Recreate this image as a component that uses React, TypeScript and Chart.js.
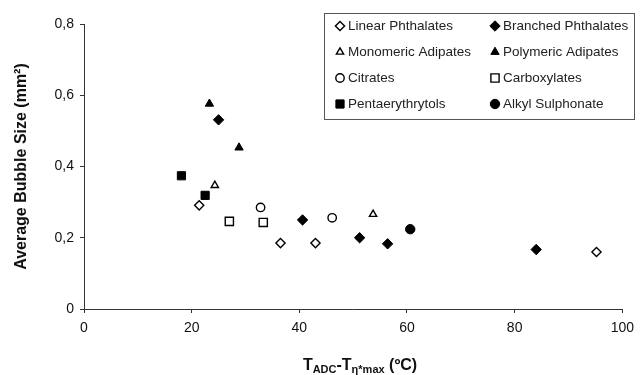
import React, { useEffect, useRef } from "react";
import { Chart, registerables } from "chart.js";
import { drawPoint } from "chart.js/helpers";

Chart.register(...registerables);

// ---- Data ----
const linearX = [21.4, 36.5, 43.0, 95.2];
const linearY = [0.291, 0.185, 0.185, 0.16];
const branchedX = [25.0, 40.6, 51.2, 56.4, 84.0];
const branchedY = [0.531, 0.25, 0.2, 0.183, 0.167];
const monoAdipX = [24.3, 53.7];
const monoAdipY = [0.347, 0.266];
const polyAdipX = [23.3, 28.8];
const polyAdipY = [0.576, 0.453];
const citratesX = [32.8, 46.1];
const citratesY = [0.285, 0.256];
const carboxX = [27.0, 33.3];
const carboxY = [0.246, 0.243];
const pentaX = [18.1, 22.5];
const pentaY = [0.374, 0.319];
const alkylX = [60.6];
const alkylY = [0.224];

const seriesNames = [
  "Linear Phthalates",
  "Branched Phthalates",
  "Monomeric Adipates",
  "Polymeric Adipates",
  "Citrates",
  "Carboxylates",
  "Pentaerythrytols",
  "Alkyl Sulphonate",
];

const yTitle = "Average Bubble Size (mm²)";
const xMin = 0, xMax = 100, xStep = 20;
const yMin = 0, yMax = 0.8, yStep = 0.2;

const FONT = "Arial, 'Liberation Sans', sans-serif";

const pts = (xs: number[], ys: number[]) => xs.map((x, i) => ({ x, y: ys[i] }));

function mkSet(label: string, data: any[], style: string, filled: boolean, radius: number) {
  return {
    label,
    data,
    pointStyle: style,
    pointRadius: radius,
    pointHoverRadius: radius,
    backgroundColor: filled ? "#000" : "#fff",
    borderColor: "#000",
    borderWidth: filled ? 1 : 1.4,
    showLine: false,
  };
}

const legendPlugin = {
  id: "boxLegend",
  afterDraw(chart: any) {
    const ctx = chart.ctx;
    ctx.save();
    ctx.strokeStyle = "#555";
    ctx.lineWidth = 1;
    ctx.strokeRect(324.5, 13.5, 310, 106);
    ctx.font = `13.5px ${FONT}`;
    ctx.textBaseline = "middle";
    ctx.textAlign = "left";
    const colMarker = [340, 495];
    const colText = [348, 503];
    const rows = [26, 52, 78, 104];
    chart.data.datasets.forEach((ds: any, i: number) => {
      const c = i % 2;
      const r = Math.floor(i / 2);
      ctx.fillStyle = ds.backgroundColor;
      ctx.strokeStyle = ds.borderColor;
      ctx.lineWidth = ds.borderWidth;
      drawPoint(ctx, { pointStyle: ds.pointStyle, radius: ds.pointRadius, borderWidth: ds.borderWidth, rotation: 0 } as any, colMarker[c], rows[r]);
      ctx.fillStyle = "#222";
      ctx.fillText(ds.label, colText[c], rows[r]);
    });
    ctx.restore();
  },
};

const titlePlugin = {
  id: "axisTitles",
  afterDraw(chart: any) {
    const ctx = chart.ctx;
    const area = chart.chartArea;
    ctx.save();
    ctx.fillStyle = "#111";
    // y title
    ctx.font = `bold 16px ${FONT}`;
    ctx.textAlign = "center";
    ctx.textBaseline = "middle";
    ctx.translate(22, (area.top + area.bottom) / 2);
    ctx.rotate(-Math.PI / 2);
    ctx.fillText(yTitle, 0, 0);
    ctx.restore();

    // x title with subscripts
    ctx.save();
    ctx.fillStyle = "#111";
    ctx.textBaseline = "alphabetic";
    ctx.textAlign = "left";
    const big = `bold 16px ${FONT}`;
    const small = `bold 11px ${FONT}`;
    const parts: [string, string, number][] = [
      ["T", big, 0],
      ["ADC", small, 3],
      ["-T", big, 0],
      ["η*max", small, 3],
      [" (ºC)", big, 0],
    ];
    let total = 0;
    parts.forEach(([t, f]) => { ctx.font = f; total += ctx.measureText(t).width; });
    let x = 360 - total / 2;
    const base = 370;
    parts.forEach(([t, f, dy]) => {
      ctx.font = f;
      ctx.fillText(t, x, base + dy);
      x += ctx.measureText(t).width;
    });
    ctx.restore();
  },
};

export default function App() {
  const ref = useRef<HTMLCanvasElement | null>(null);
  useEffect(() => {
    if (!ref.current) return;
    const chart = new Chart(ref.current, {
      type: "scatter",
      data: {
        datasets: [
          mkSet(seriesNames[0], pts(linearX, linearY), "rectRot", false, 4.6),
          mkSet(seriesNames[1], pts(branchedX, branchedY), "rectRot", true, 5.2),
          mkSet(seriesNames[2], pts(monoAdipX, monoAdipY), "triangle", false, 4.2),
          mkSet(seriesNames[3], pts(polyAdipX, polyAdipY), "triangle", true, 4.8),
          mkSet(seriesNames[4], pts(citratesX, citratesY), "circle", false, 4.2),
          mkSet(seriesNames[5], pts(carboxX, carboxY), "rect", false, 5.8),
          mkSet(seriesNames[6], pts(pentaX, pentaY), "rect", true, 5.8),
          mkSet(seriesNames[7], pts(alkylX, alkylY), "circle", true, 4.7),
        ] as any,
      },
      options: {
        animation: false,
        responsive: false,
        devicePixelRatio: 1,
        layout: { padding: { top: 24, right: 11, left: 0, bottom: 0 } },
        plugins: { legend: { display: false }, tooltip: { enabled: false } },
        scales: {
          x: {
            type: "linear",
            min: xMin,
            max: xMax,
            afterFit: (s: any) => { s.height = 66; },
            ticks: { stepSize: xStep, color: "#111", font: { family: FONT, size: 14 }, padding: 7, maxRotation: 0 },
            grid: { drawOnChartArea: false, drawTicks: true, tickLength: 4, color: "#333" },
            border: { display: true, color: "#333", width: 1 },
          },
          y: {
            type: "linear",
            min: yMin,
            max: yMax,
            afterFit: (s: any) => { s.width = 84; },
            ticks: {
              stepSize: yStep,
              color: "#111",
              font: { family: FONT, size: 14 },
              padding: 6,
              callback: (v: any) => (Number(v) === 0 ? "0" : Number(v).toFixed(1).replace(".", ",")),
            },
            grid: { drawOnChartArea: false, drawTicks: true, tickLength: 4, color: "#333" },
            border: { display: true, color: "#333", width: 1 },
          },
        },
      } as any,
      plugins: [legendPlugin, titlePlugin],
    });
    return () => chart.destroy();
  }, []);
  return (
    <div style={{ position: "fixed", left: 0, top: 0, width: 641, height: 375, background: "#fff" }}>
      <canvas ref={ref} width={641} height={375} style={{ display: "block" }} />
    </div>
  );
}
